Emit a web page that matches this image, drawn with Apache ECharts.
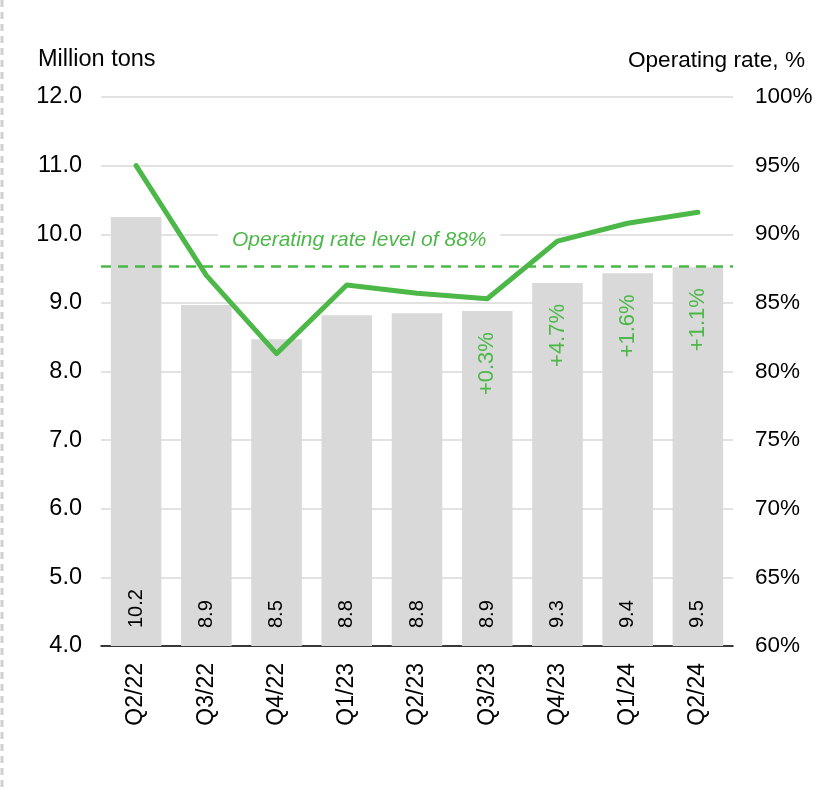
<!DOCTYPE html>
<html>
<head>
<meta charset="utf-8">
<script src="https://cdn.jsdelivr.net/npm/echarts@6/dist/echarts.min.js"></script>
<style>
html,body{margin:0;padding:0;background:#fff;}
#chart{width:817px;height:792px;}
</style>
</head>
<body>
<div id="chart"></div>
<script>
const categories = ["Q2/22","Q3/22","Q4/22","Q1/23","Q2/23","Q3/23","Q4/23","Q1/24","Q2/24"];
const volumes = [10.25, 8.97, 8.47, 8.82, 8.85, 8.88, 9.29, 9.43, 9.52];
const volumeLabels = ["10.2","8.9","8.5","8.8","8.8","8.9","9.3","9.4","9.5"];
const changes = ["","","","","","+0.3%","+4.7%","+1.6%","+1.1%"];
const operatingRate = [95.0, 87.0, 81.3, 86.3, 85.7, 85.3, 89.5, 90.8, 91.6];
const referenceLevel = 87.7;
const referenceText = "Operating rate level of 88%";
const leftTicks = {min: 4, max: 12, interval: 1};
const rightTicks = {min: 60, max: 100, interval: 5};

const GREEN = '#4cb848';
const FONT = '"Liberation Sans", Arial, sans-serif';

const chart = echarts.init(document.getElementById('chart'), null, {renderer: 'canvas'});
chart.setOption({
  animation: false,
  backgroundColor: '#fff',
  textStyle: {fontFamily: FONT},
  grid: {left: 101, right: 84, top: 97, bottom: 146},
  graphic: [
    {type: 'line', shape: {x1: 2, y1: 0, x2: 2, y2: 792}, style: {stroke: '#d0d0d0', lineWidth: 3, lineDash: [7, 5]}},
    {type: 'text', left: 38, top: 48, style: {text: 'Million tons', font: '23.5px ' + FONT, fill: '#000'}},
    {type: 'text', right: 12, top: 49, style: {text: 'Operating rate, %', font: '22.6px ' + FONT, fill: '#000'}}
  ],
  xAxis: {
    type: 'category',
    data: categories,
    axisLine: {lineStyle: {color: '#000', width: 1.5}},
    axisTick: {show: false},
    axisLabel: {rotate: 90, margin: 17, fontSize: 23, color: '#000', fontFamily: FONT}
  },
  yAxis: [
    {
      type: 'value', min: leftTicks.min, max: leftTicks.max, interval: leftTicks.interval,
      axisLine: {show: false}, axisTick: {show: false},
      splitLine: {lineStyle: {color: '#d9d9d9', width: 1.5}},
      axisLabel: {margin: 19, fontSize: 23.5, color: '#000', fontFamily: FONT, formatter: v => v.toFixed(1)}
    },
    {
      type: 'value', min: rightTicks.min, max: rightTicks.max, interval: rightTicks.interval,
      axisLine: {show: false}, axisTick: {show: false}, splitLine: {show: false},
      axisLabel: {margin: 22, fontSize: 22.5, color: '#000', fontFamily: FONT, formatter: '{value}%'}
    }
  ],
  series: [
    {
      type: 'bar',
      data: volumes,
      barCategoryGap: '28%',
      itemStyle: {color: '#d9d9d9'},
      label: {
        show: true, position: 'insideBottom', distance: 18, rotate: 90,
        align: 'left', verticalAlign: 'middle',
        fontSize: 20, color: '#000', fontFamily: FONT,
        formatter: p => volumeLabels[p.dataIndex]
      },
      z: 2
    },
    {
      type: 'bar',
      data: volumes,
      barGap: '-100%',
      barCategoryGap: '28%',
      itemStyle: {color: 'rgba(0,0,0,0)'},
      silent: true,
      label: {
        show: true, position: ['50%', 21], rotate: 90,
        align: 'right', verticalAlign: 'middle',
        fontSize: 22, color: GREEN, fontFamily: FONT,
        formatter: p => changes[p.dataIndex]
      },
      z: 3
    },
    {
      type: 'line',
      yAxisIndex: 1,
      data: operatingRate,
      symbol: 'none',
      lineStyle: {color: GREEN, width: 5, cap: 'round', join: 'round'},
      z: 5,
      markLine: {
        silent: true,
        symbol: 'none',
        lineStyle: {color: GREEN, width: 2.5, type: [10, 7]},
        label: {
          show: true,
          position: 'insideStartTop',
          distance: [117, 13],
          formatter: referenceText,
          fontSize: 21, fontStyle: 'italic', color: GREEN, fontFamily: FONT,
          backgroundColor: '#fff', padding: [2, 14]
        },
        data: [{yAxis: referenceLevel}]
      }
    }
  ]
});
</script>
</body>
</html>
